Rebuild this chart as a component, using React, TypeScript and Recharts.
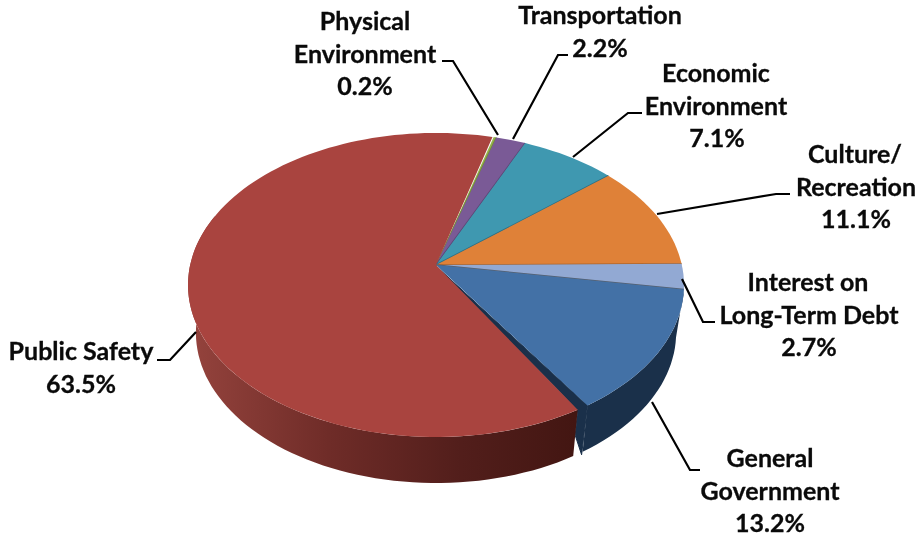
import { PieChart, Pie } from 'recharts';

const categories = [
  'Physical Environment',
  'Transportation',
  'Economic Environment',
  'Culture/Recreation',
  'Interest on Long-Term Debt',
  'General Government',
  'Public Safety',
];
const shares = [0.2, 2.2, 7.1, 11.1, 2.7, 13.2, 63.5];

const topColors = ['#94B24C', '#7A5A96', '#3F98B0', '#DF8138', '#92A9D3', '#4371A6', '#A9443F'];
const edgeColors = ['#6f8a35', '#5b4272', '#2a6f86', '#a8652f', '#56606f', '#1A304A', '#7a2f2b'];
const wallColors = ['none', 'none', 'none', 'none', 'none', '#1A304A', 'url(#redWall)'];

const labelLines = [
  ['Physical', 'Environment', '0.2%'],
  ['Transportation', '2.2%'],
  ['Economic', 'Environment', '7.1%'],
  ['Culture/', 'Recreation', '11.1%'],
  ['Interest on', 'Long-Term Debt', '2.7%'],
  ['General', 'Government', '13.2%'],
  ['Public Safety', '63.5%'],
];

// where each label sits: centre x of each line, baseline of the first line
const labelX = [[365, 365, 365], [600, 600], [716, 716, 717], [855, 856, 856], [808, 809, 809], [770, 770, 770], [81, 81]];
const labelY = [30, 24, 82, 163, 291, 467, 360];
const leaders = [
  '498,135 453,61 442,61',
  '513,139 558,55 568,55',
  '573,157 628,113 642,113',
  '657,214 776,194 790,194',
  '682,279 703,322 715,322',
  '652,402 690,470 700,470',
  '196,332 170,360 157,360',
];

const chartData = categories.map((name, i) => ({ name, value: shares[i] }));

const CX = 436;
const CY = 265;
const RADIUS = 248;
const K = -0.13; // perspective: apex sits above the ellipse centre
const RED_CUT = 2.5;
const RED_GAP = 0.3;
const WALL_LIMIT = -200; // the wall is out of sight past the left side

const RAD = Math.PI / 180;

function project(deg: number, level: 'top' | 'bottom', cx: number, cy: number, r: number) {
  const u = Math.cos(deg * RAD);
  const v = -Math.sin(deg * RAD);
  const d = 1 + K * v;
  const X = (u * Math.sqrt(1 - K * K)) / d;
  const Y = (v + K) / d;
  if (level === 'top') return [cx + r * X, cy + 20 + r * 0.613 * Y];
  return [cx + r * 0.968 * X, cy + 68 + r * 0.605 * Y];
}

function arc(from: number, to: number, level: 'top' | 'bottom', cx: number, cy: number, r: number) {
  const steps = Math.max(2, Math.ceil(Math.abs(to - from) / 2));
  const pts = [];
  for (let i = 0; i <= steps; i++) {
    pts.push(project(from + ((to - from) * i) / steps, level, cx, cy, r));
  }
  return pts;
}

const toPath = (pts: number[][]) => 'M' + pts.map((p) => `${p[0].toFixed(1)},${p[1].toFixed(1)}`).join('L') + 'Z';

function trimmed(props: any) {
  const last = shares.length - 1;
  let { startAngle, endAngle } = props;
  if (props.index === last) {
    startAngle -= RED_CUT;
    endAngle += RED_GAP;
  }
  return { startAngle, endAngle };
}

function WallShape(props: any) {
  const { cx, cy, outerRadius, index } = props;
  if (wallColors[index] === 'none') return <g />;
  const { startAngle, endAngle: rawEnd } = trimmed(props);
  const endAngle = Math.max(rawEnd, WALL_LIMIT);
  const pts = [
    ...arc(startAngle, endAngle, 'top', cx, cy, outerRadius),
    ...arc(endAngle, startAngle, 'bottom', cx, cy, outerRadius),
  ];
  let cutFace = null;
  if (index === shares.length - 2) {
    // blue slice shows its cut face in the gap next to the red one
    const cut = endAngle - RED_CUT;
    const a = project(cut, 'top', cx, cy, outerRadius);
    const b = project(cut, 'bottom', cx, cy, outerRadius);
    const tip = project(endAngle, 'bottom', cx, cy, outerRadius);
    const mid = [a[0] + (b[0] - a[0]) * 0.55, a[1] + (b[1] - a[1]) * 0.55];
    cutFace = (
      <path
        d={toPath([[cx, cy + 1], project(endAngle, 'top', cx, cy, outerRadius), [tip[0] - 1, tip[1] + 3], mid, a])}
        fill={wallColors[index]}
        stroke={wallColors[index]}
        strokeWidth={1}
      />
    );
  }
  return (
    <g>
      <path d={toPath(pts)} fill={wallColors[index]} />
      {cutFace}
    </g>
  );
}

function TopShape(props: any) {
  const { cx, cy, outerRadius, index } = props;
  const { startAngle, endAngle } = trimmed(props);
  const pts = [[cx, cy], ...arc(startAngle, endAngle, 'top', cx, cy, outerRadius)];
  const edgeEnd = project(endAngle, 'top', cx, cy, outerRadius);
  return (
    <g>
      <path d={toPath(pts)} fill={topColors[index]} />
      {index < shares.length - 2 && (
        <line x1={cx} y1={cy} x2={edgeEnd[0]} y2={edgeEnd[1]} stroke={edgeColors[index]} strokeWidth={1.5} />
      )}
    </g>
  );
}

function SliceLabel(props: any) {
  const i = props.index;
  return (
    <g>
      <polyline points={leaders[i]} fill="none" stroke="#000" strokeWidth={2.2} />
      {labelLines[i].map((line, n) => (
        <text
          key={line}
          x={labelX[i][n]}
          y={labelY[i] + n * 32.5}
          textAnchor="middle"
          fontFamily="Lato, sans-serif"
          fontWeight={700}
          fontSize={25}
          fill="#0a0a0a"
          stroke="#0a0a0a"
          strokeWidth={0.3}
        >
          {line}
        </text>
      ))}
    </g>
  );
}

export default function App() {
  return (
    <div style={{ position: 'absolute', left: 0, top: 0, width: 921, height: 538, background: '#fff', filter: 'blur(0.4px)' }}>
      <PieChart width={921} height={538} margin={{ top: 0, right: 0, bottom: 0, left: 0 }}>
        <defs>
          <linearGradient id="redWall" gradientUnits="userSpaceOnUse" x1={196} y1={0} x2={575} y2={0}>
            <stop offset="0%" stopColor="#93423c" />
            <stop offset="35%" stopColor="#6f2c28" />
            <stop offset="70%" stopColor="#521e1b" />
            <stop offset="100%" stopColor="#431612" />
          </linearGradient>
        </defs>
        <Pie
          data={chartData}
          dataKey="value"
          nameKey="name"
          cx={CX}
          cy={CY}
          outerRadius={RADIUS}
          startAngle={74.7}
          endAngle={-285.3}
          stroke="none"
          shape={WallShape}
          isAnimationActive={false}
        />
        <Pie
          data={chartData}
          dataKey="value"
          nameKey="name"
          cx={CX}
          cy={CY}
          outerRadius={RADIUS}
          startAngle={74.7}
          endAngle={-285.3}
          stroke="none"
          shape={TopShape}
          label={SliceLabel}
          labelLine={false}
          isAnimationActive={false}
        />
      </PieChart>
    </div>
  );
}
